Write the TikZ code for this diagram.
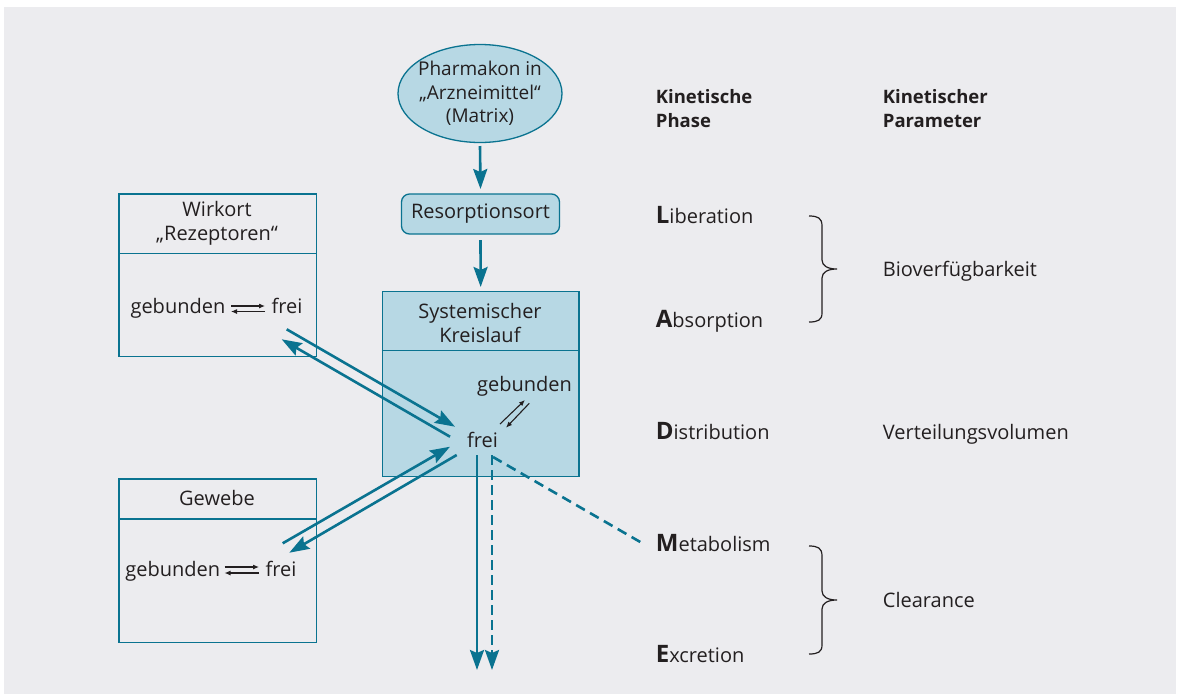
\documentclass[tikz,border=0pt]{standalone}
\usepackage{fontspec}
\setmainfont{Open Sans}
\usetikzlibrary{arrows.meta,shapes.geometric}
\definecolor{tealc}{HTML}{0A7390}
\definecolor{bgc}{HTML}{ECECEF}
\definecolor{fillc}{HTML}{B7D8E4}
\definecolor{txtc}{HTML}{231F20}
\tikzset{
  txt/.style={text=txtc, inner sep=0pt, font=\fontsize{20}{23.3}\selectfont},
  hdr/.style={txt, align=left, font=\fontsize{18.5}{24}\selectfont\bfseries},
  box/.style={draw=tealc, line width=1.3pt, inner sep=0pt, anchor=north west},
  flow/.style={draw=tealc, line width=2.6pt, -{Stealth[length=20pt,width=14pt,inset=3pt]}},
  flowdash/.style={flow, dash pattern=on 10pt off 5pt},
  eq/.style={draw=txtc, line width=1.1pt, -{Latex[length=6pt,width=5pt]}},
  bracec/.style={draw=txtc, line width=1.2pt},
}
\newcommand{\phaseinit}[1]{{\fontsize{24}{24}\selectfont\bfseries #1}}
\begin{document}
\begin{tikzpicture}[x=1pt,y=-1pt]
\useasboundingbox (0,0) rectangle (1178,697);
\fill[bgc] (4,7) rectangle (1176,694);

% top nodes
\node[draw=tealc, fill=fillc, ellipse, line width=1.3pt, minimum width=164pt, minimum height=98pt, inner sep=0pt] (pharm) at (480,93.5) {};
\node[txt, align=center, font=\fontsize{19}{23.3}\selectfont] (pharmtxt) at (pharm.center) {Pharmakon in\\„Arzneimittel“\\(Matrix)};
\node[txt, draw=tealc, fill=fillc, rounded corners=8pt, line width=1.3pt, minimum width=158pt, minimum height=40pt] (res) at (480.5,214) {Resorptionsort};

% systemic box
\node[box, fill=fillc, minimum width=196.6pt, minimum height=185pt] (sys) at (381.7,290.7) {};
\draw[tealc, line width=1.3pt] ([yshift=-60pt]sys.north west) -- ([yshift=-60pt]sys.north east);
\node[txt, align=center] (systitle) at (480,323) {Systemischer\\Kreislauf};
\node[txt, anchor=base west] (sgeb) at (477,391) {gebunden};
\node[txt, anchor=base west] (sfrei) at (467,447.7) {frei};

% Wirkort box
\node[box, minimum width=197.4pt, minimum height=162.7pt] (wk) at (118.3,193.3) {};
\draw[tealc, line width=1.3pt] ([yshift=-60pt]wk.north west) -- ([yshift=-60pt]wk.north east);
\node[txt, align=center] (wktitle) at (217,223.4) {Wirkort\\„Rezeptoren“};
\node[txt, anchor=base east] (wgeb) at (225.5,313.3) {gebunden};
\node[txt, anchor=base west] (wfrei) at (271.5,313.3) {frei};

% Gewebe box
\node[box, minimum width=197.4pt, minimum height=163.4pt] (gw) at (118.3,478.3) {};
\draw[tealc, line width=1.3pt] ([yshift=-40.7pt]gw.north west) -- ([yshift=-40.7pt]gw.north east);
\node[txt] (gwtitle) at (217,497.5) {Gewebe};
\node[txt, anchor=base east] (ggeb) at (220.3,576) {gebunden};
\node[txt, anchor=base west] (gfrei) at (265.5,576) {frei};

% equilibrium arrows
\draw[eq] (231,306) -- (265,306);
\draw[eq] (265,311.5) -- (231,311.5);
\draw[eq] (224.5,567) -- (259,567);
\draw[eq] (259,573) -- (224.5,573);
\draw[eq] (500,424) -- (525,400);
\draw[eq] (529.3,403.3) -- (506,427.7);

% connector end points
\coordinate (a1s) at (286.7,329.3);
\coordinate (a1e) at (455,426.7);
\coordinate (a2s) at (450,436.7);
\coordinate (a2e) at (281.7,339.3);
\coordinate (a3s) at (282.7,543.3);
\coordinate (a3e) at (450,446.7);
\coordinate (a4s) at (456.7,455);
\coordinate (a4e) at (289.3,552.7);
\coordinate (v1s) at (477,455);
\coordinate (v1e) at (477,670);
\coordinate (v2s) at (492,455);
\coordinate (v2e) at (492,670);
\coordinate (ds) at (493,457);
\coordinate (de) at (642,543);

\draw[flow] (pharm.south |- 0,146) -- (res.north |- 0,189);
\draw[flow] (res.south |- 0,240) -- (sys.north |- 0,287);
\draw[flow] (a1s) -- (a1e);
\draw[flow] (a2s) -- (a2e);
\draw[flow] (a3s) -- (a3e);
\draw[flow] (a4s) -- (a4e);
\draw[flow] (v1s) -- (v1e);
\draw[flowdash] (v2s) -- (v2e);
\draw[draw=tealc, line width=2.6pt, dash pattern=on 10pt off 6pt] (ds) -- (de);

% right column
\node[hdr, anchor=west] (kph) at (655.7,108.7) {Kinetische\\Phase};
\node[hdr, anchor=west] (kpa) at (882.7,108.7) {Kinetischer\\Parameter};
\node[txt, anchor=base west] (lib) at (655.7,223.3) {\phaseinit{L}iberation};
\node[txt, anchor=base west] (abs) at (655.7,327.3) {\phaseinit{A}bsorption};
\node[txt, anchor=base west] (dis) at (655.7,439.3) {\phaseinit{D}istribution};
\node[txt, anchor=base west] (met) at (655.7,551) {\phaseinit{M}etabolism};
\node[txt, anchor=base west] (exc) at (655.7,662.7) {\phaseinit{E}xcretion};
\node[txt, anchor=west] (bio) at (882.7,271) {Bioverfügbarkeit};
\node[txt, anchor=west] (vv) at (882.7,434) {Verteilungsvolumen};
\node[txt, anchor=west] (cl) at (882.7,600) {Clearance};

% braces
\draw[bracec] (809,216) .. controls (818,216) and (822,218) .. (822,226) -- (822,260) .. controls (822,266) and (828,269) .. (837,269) .. controls (828,269) and (822,272) .. (822,278) -- (822,313) .. controls (822,320) and (818,322) .. (809,322);
\draw[bracec] (809,546) .. controls (818,546) and (822,548) .. (822,556) -- (822,591) .. controls (822,597) and (828,600) .. (837,600) .. controls (828,600) and (822,603) .. (822,609) -- (822,645) .. controls (822,652) and (818,654) .. (809,654);
\end{tikzpicture}
\end{document}
